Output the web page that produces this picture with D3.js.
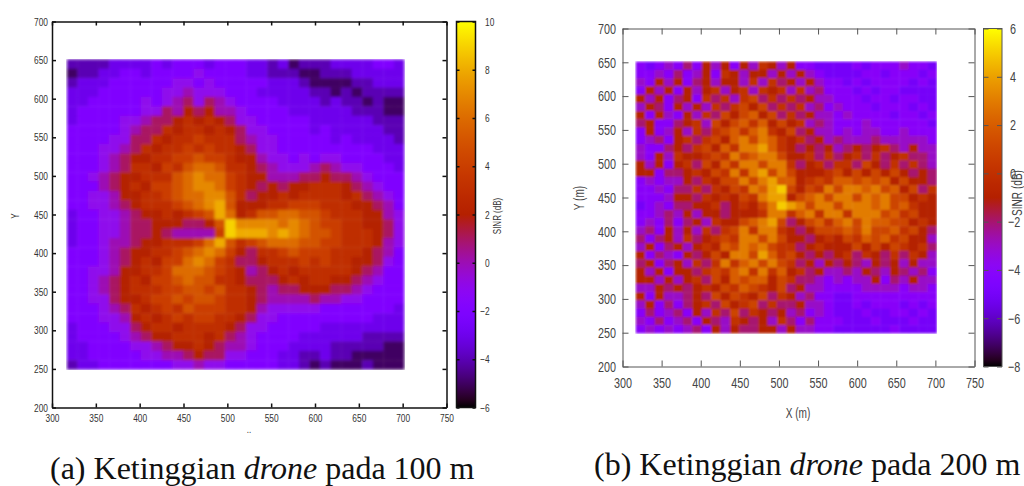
<!DOCTYPE html>
<html>
<head>
<meta charset="utf-8">
<script src="https://cdnjs.cloudflare.com/ajax/libs/d3/7.9.0/d3.min.js"></script>
<style>
  html, body { margin: 0; padding: 0; background: #fff; }
  svg { display: block; }
  .caption { font-family: "Liberation Serif", serif; fill: #111; }
</style>
</head>
<body>
<svg id="chart" width="1024" height="486"></svg>
<script>
// ticks
const xTicks = [300, 350, 400, 450, 500, 550, 600, 650, 700, 750];
const yTicks = [200, 250, 300, 350, 400, 450, 500, 550, 600, 650, 700];
const barTicksA = [-6, -4, -2, 0, 2, 4, 6, 8, 10];
const barTicksB = [-8, -6, -4, -2, 0, 2, 4, 6];

// SINR (dB), top row first on a 12 m grid
const sinrA = [
  [-4,-4,-4,-4,-3,-3,-3,-3,-2,-3,-2,-2,-2,-3,-2,-2,-2,-3,-3,-4,-3,-5,-4,-4,-4,-3,-3,-3,-3,-2,-2,-3],
  [-5,-4,-4,-3,-3,-2,-2,-3,-2,-2,-2,-2,-1,-2,-2,-2,-2,-3,-3,-4,-4,-4,-5,-5,-4,-4,-4,-3,-3,-3,-3,-3],
  [-4,-3,-3,-3,-2,-2,-2,-2,-2,-2,-1,-1,-2,-1,-2,-2,-2,-2,-2,-3,-3,-3,-4,-5,-5,-5,-5,-4,-4,-3,-3,-3],
  [-3,-3,-3,-2,-2,-2,-2,-2,-2,-1,-1,0,-1,-1,-1,-2,-2,-2,-3,-3,-3,-3,-3,-4,-4,-5,-4,-5,-4,-4,-4,-4],
  [-3,-3,-2,-2,-2,-2,-2,-1,-2,-1,0,1,-1,1,0,-1,-2,-2,-2,-2,-3,-3,-3,-3,-4,-3,-4,-4,-5,-4,-5,-5],
  [-3,-2,-2,-2,-2,-2,-2,-1,-1,1,0,2,1,2,0,0,-1,-2,-2,-2,-2,-3,-3,-3,-3,-3,-3,-4,-4,-4,-5,-5],
  [-3,-2,-2,-2,-2,-1,-1,0,1,1,2,3,2,3,2,1,-1,-1,-2,-2,-2,-2,-2,-3,-3,-3,-3,-3,-3,-4,-4,-4],
  [-2,-2,-2,-2,-2,-1,0,1,1,3,2,3,3,2,3,2,1,-1,-1,-2,-2,-2,-2,-3,-2,-3,-3,-3,-3,-3,-4,-4],
  [-2,-2,-2,-2,-1,-1,1,1,3,2,3,3,4,3,3,3,1,0,-1,-1,-2,-2,-2,-2,-2,-3,-2,-3,-3,-3,-3,-4],
  [-2,-2,-2,-1,-1,0,1,3,2,3,3,4,3,4,3,3,2,1,-1,-1,-2,-2,-2,-2,-2,-2,-2,-2,-2,-3,-3,-3],
  [-2,-2,-2,-1,0,1,2,2,3,3,4,4,5,4,4,3,2,2,0,-1,-1,-2,-1,-2,-1,-1,-2,-2,-2,-2,-3,-3],
  [-2,-2,-2,-1,0,1,3,3,2,4,3,5,6,6,5,3,3,2,1,0,-1,-1,-1,0,1,0,-1,-1,-2,-2,-2,-3],
  [-2,-2,-1,0,1,2,2,3,3,3,5,6,7,6,6,4,3,2,2,0,0,0,1,1,2,1,1,0,-1,-2,-2,-2],
  [-2,-2,-2,0,1,2,3,2,4,4,5,6,7,7,6,4,3,2,1,2,1,2,2,3,3,3,2,1,0,-1,-2,-2],
  [-2,-2,-1,-1,0,2,2,3,3,4,5,6,6,7,7,5,3,1,2,2,3,2,3,3,3,3,2,3,1,0,-1,-2],
  [-2,-2,-1,-1,0,1,2,3,3,3,4,5,6,7,8,5,2,2,2,3,3,4,4,4,3,3,3,2,2,1,0,-2],
  [-3,-2,-2,-1,-1,0,1,2,2,3,2,3,4,5,8,6,2,3,5,5,6,6,5,5,4,3,3,3,2,2,0,-1],
  [-3,-2,-2,-1,-1,0,1,1,2,2,2,1,1,2,5,9,7,7,7,7,6,7,6,5,4,4,3,3,2,2,1,-1],
  [-3,-2,-2,-1,-1,0,1,1,2,1,0,0,0,0,4,9,8,8,8,7,8,7,6,5,5,4,3,3,3,2,1,-1],
  [-3,-2,-2,-1,0,0,1,2,2,3,3,3,4,6,8,5,3,4,5,6,6,6,5,5,4,4,3,3,3,2,0,-1],
  [-2,-2,-2,-1,0,1,2,2,3,3,4,5,6,7,6,4,2,1,3,3,4,5,4,4,4,3,3,3,2,1,0,-2],
  [-2,-2,-2,-1,0,1,2,3,2,4,4,6,7,6,4,3,1,1,2,3,3,3,4,3,4,3,3,2,2,1,-1,-2],
  [-2,-2,-1,-1,0,2,2,3,3,4,6,6,6,5,4,3,2,0,1,2,3,2,3,3,3,3,3,2,1,0,-2,-2],
  [-2,-2,-1,0,1,2,3,2,4,4,5,6,5,5,3,3,2,1,1,1,2,3,2,3,3,2,2,1,0,-1,-2,-2],
  [-2,-2,-1,0,1,2,3,3,3,4,4,5,5,4,5,3,3,2,1,0,1,1,2,2,2,1,1,0,-1,-2,-2,-2],
  [-2,-2,-1,-1,1,2,2,3,4,4,5,4,5,5,4,3,3,2,1,0,0,0,0,1,0,0,-1,-1,-2,-2,-2,-2],
  [-2,-2,-2,-1,0,1,3,2,3,4,3,5,4,4,4,3,3,2,0,-1,-1,-1,-1,-1,-2,-2,-2,-2,-2,-2,-2,-3],
  [-2,-2,-2,-1,-1,0,2,3,2,3,4,3,4,4,3,3,2,1,-1,-1,-2,-2,-2,-2,-2,-2,-2,-2,-2,-3,-3,-3],
  [-3,-2,-2,-2,-1,-1,1,2,3,3,2,3,3,3,3,2,1,-1,-1,-2,-2,-2,-2,-2,-3,-3,-3,-3,-3,-3,-3,-3],
  [-3,-2,-2,-2,-2,-1,0,1,2,2,3,3,3,2,3,1,0,-1,-2,-2,-2,-2,-3,-3,-3,-3,-3,-3,-4,-4,-4,-4],
  [-3,-3,-2,-2,-2,-2,-1,-1,0,1,2,2,3,2,1,0,0,-1,-2,-2,-2,-3,-3,-3,-3,-4,-4,-4,-4,-4,-5,-5],
  [-3,-3,-2,-2,-2,-2,-2,-1,-1,0,0,1,2,1,1,-1,-1,-2,-2,-2,-3,-3,-4,-4,-3,-4,-4,-5,-5,-5,-5,-5],
  [-4,-3,-3,-2,-2,-2,-2,-2,-2,-2,-1,-1,0,-1,-1,-2,-2,-2,-2,-2,-3,-3,-4,-5,-4,-5,-5,-5,-4,-5,-5,-5]
];

const sinrB = [
  [-4,-5,-4,-3,-4,-2,-4,-1,-3,-1,-4,-1,-3,0,-1,-3,-1,-4,-4,-5,-5,-5,-5,-4,-5,-4,-4,-4,-3,-4,-4,-5],
  [-4,-4,-3,-4,-2,-4,-3,-1,-4,0,-1,-3,-1,-1,-3,-1,-3,-1,-3,-4,-5,-5,-5,-5,-4,-4,-5,-4,-4,-4,-5,-4],
  [-3,-4,-1,-3,-1,-4,-2,-1,-3,-1,-1,-3,0,-3,0,-2,-1,-3,-1,-3,-4,-4,-5,-4,-5,-4,-4,-4,-4,-5,-4,-5],
  [-4,-1,-3,-1,-4,-1,-3,-1,0,-3,-1,0,-3,0,-1,0,-3,0,-3,-2,-4,-4,-4,-5,-4,-5,-4,-4,-5,-5,-5,-5],
  [-1,-3,-1,-4,-2,-1,-4,0,-2,0,-3,0,1,-2,0,-2,0,-2,-1,-3,-3,-4,-4,-4,-5,-4,-4,-5,-4,-4,-5,-5],
  [-3,-1,-2,-4,-1,-3,-1,-3,0,-2,0,1,-1,1,-2,0,-2,0,-3,-2,-4,-3,-4,-4,-4,-5,-4,-4,-4,-5,-4,-5],
  [-1,-4,-1,-3,-4,-1,-3,0,-2,1,-1,1,2,-1,1,-2,0,-2,-1,-3,-3,-4,-3,-4,-4,-4,-4,-5,-4,-4,-5,-4],
  [-2,-1,-4,-4,-2,-1,0,-3,1,-1,1,2,0,2,-1,1,-1,0,-3,-2,-3,-4,-4,-4,-3,-4,-4,-4,-4,-4,-4,-5],
  [-4,-1,-4,-3,-1,-3,0,-2,0,1,2,0,2,3,0,-1,1,-2,-1,-3,-3,-4,-3,-4,-3,-3,-4,-4,-3,-4,-4,-4],
  [-4,-3,-2,-4,-1,0,-2,0,1,-1,2,3,1,3,2,0,-1,0,-2,-1,-3,-2,-3,-3,-3,-2,-3,-3,-3,-3,-3,-4],
  [-3,-4,-4,-2,-1,-2,0,1,-1,2,0,3,3,4,2,0,-1,-2,-1,-2,-1,-3,-2,-1,-2,-1,0,-2,-3,-1,-3,-3],
  [-3,-4,-1,-3,0,-1,-1,0,1,0,3,1,2,3,3,1,-1,-1,0,-2,0,-2,-1,0,-2,0,-2,-1,0,-2,-2,-3],
  [-1,-3,-1,-4,-1,0,-2,1,-1,2,0,3,3,1,3,3,0,-2,-1,0,-2,0,0,-2,1,-1,-2,0,-2,0,-2,-3],
  [-1,-1,-4,-2,-2,-1,0,-1,1,0,3,0,3,4,1,3,1,-1,-1,-1,0,1,-1,1,-1,1,-1,1,-1,-2,-1,-2],
  [-4,-3,-4,-3,-3,-1,-2,0,-1,1,1,3,1,3,4,2,2,-1,0,1,0,2,2,1,2,1,2,-1,1,-1,-1,-2],
  [-4,-4,-3,-4,-2,-2,0,-2,0,-1,1,0,3,2,4,5,1,-1,1,0,3,1,3,3,2,3,1,2,-1,1,-2,0],
  [-4,-4,-4,-3,-1,-1,-2,0,-1,0,-1,1,0,3,4,4,-1,1,2,3,1,3,3,1,3,2,3,1,1,-1,0,-1],
  [-5,-4,-3,-4,-2,-2,-1,-1,0,-2,-1,0,-1,1,3,5,4,3,1,3,3,1,3,3,3,2,3,1,2,0,-1,-1],
  [-4,-4,-3,-2,-3,-1,-3,-1,-1,-2,-1,-1,-1,0,3,3,0,2,3,0,3,3,0,3,3,3,1,2,0,1,-1,-1],
  [-4,-3,-4,-2,-4,-2,-1,-3,0,-1,-1,1,2,3,4,1,-2,-1,1,2,0,2,3,1,3,2,2,1,1,-1,0,-1],
  [-3,-2,-4,-1,-3,-1,-3,0,-2,0,1,3,0,3,3,0,-1,-2,-1,1,1,1,2,1,3,1,1,2,0,1,-1,-2],
  [-2,-4,-2,-1,-3,0,-2,-1,0,1,0,3,3,1,3,1,-1,-1,-2,-1,0,-1,1,0,2,1,2,0,1,-1,-1,-3],
  [-3,-1,-4,-2,-1,-3,-1,0,-1,2,1,3,2,3,1,0,0,-2,-1,0,-1,-1,-1,1,-1,1,-1,1,0,-1,0,-2],
  [-1,-4,-2,-3,-4,-1,-2,-1,1,-1,3,3,1,4,2,0,1,-1,-2,-1,-2,-1,0,-2,0,-1,-2,0,-2,0,-1,-3],
  [-2,-1,-4,-2,-1,-3,0,-2,0,3,0,2,3,1,3,1,0,-2,-1,-3,-1,-2,-1,-2,-3,-1,-2,-1,-3,-1,-3,-3],
  [-1,-3,-1,-4,-1,-1,-2,0,1,0,2,3,0,3,0,2,-1,0,-2,-1,-3,-3,-2,-3,-1,-2,-3,-1,-2,-3,-2,-4],
  [-1,-1,-3,-1,-3,-1,0,-2,1,-1,2,1,2,2,-1,1,0,-2,-2,-3,-4,-3,-4,-3,-3,-1,-4,-2,-3,-1,-3,-3],
  [-3,-3,-1,-2,-1,-2,-1,0,-1,1,0,2,1,0,-1,1,-2,-1,-3,-3,-4,-4,-4,-4,-3,-3,-3,-3,-4,-3,-3,-4],
  [-1,-4,-1,-3,-3,-2,-1,-2,1,-1,1,0,-1,1,-2,0,-1,-3,-2,-4,-4,-5,-5,-4,-4,-4,-4,-4,-4,-4,-4,-4],
  [-3,-1,-4,-2,-4,-2,-1,0,-2,1,-1,0,1,-2,0,-2,-2,-1,-3,-3,-4,-5,-5,-4,-5,-4,-4,-4,-5,-4,-5,-4],
  [-4,-2,-4,-3,-2,-4,-1,-3,0,-2,1,-2,0,-1,-2,-1,-3,-2,-4,-3,-4,-5,-5,-5,-4,-5,-5,-4,-4,-5,-4,-5],
  [-3,-4,-2,-4,-3,-2,-4,-1,-2,-3,0,-1,-2,-1,-3,0,-2,-4,-2,-4,-4,-4,-5,-5,-5,-4,-5,-5,-5,-4,-5,-5],
  [-4,-3,-4,-3,-4,-3,-2,-4,-1,-3,-1,-2,-2,-1,-1,-3,-1,-3,-3,-4,-4,-5,-5,-5,-5,-5,-5,-4,-5,-5,-5,-5]
];

// gnuplot's default pm3d palette (rgbformulae 7,5,15)
const palette = t => d3.rgb(
  255 * Math.sqrt(t),
  255 * t * t * t,
  255 * Math.max(0, Math.sin(2 * Math.PI * t))
).formatHex();

const svg = d3.select('#chart');

function drawPanel(p) {
  const x = d3.scaleLinear().domain([300, 750]).range([p.left, p.right]);
  const y = d3.scaleLinear().domain([200, 700]).range([p.bottom, p.top]);
  const color = d3.scaleSequential(palette).domain([p.barTicks[0], p.barTicks[p.barTicks.length - 1]]);
  const g = svg.append('g').attr('id', p.id);
  const defs = svg.append('defs');

  // the source image is a blurry scan, soften the cells the same way
  defs.append('filter')
    .attr('id', p.id + '-soft')
    .attr('x', 0).attr('y', 0).attr('width', 1).attr('height', 1)
    .append('feGaussianBlur')
    .attr('stdDeviation', p.blur)
    .attr('edgeMode', 'duplicate');

  // heat map cells
  const col = d3.scaleBand().domain(d3.range(p.values[0].length)).range([x(317), x(702)]);
  const row = d3.scaleBand().domain(d3.range(p.values.length)).range([y(651), y(249)]);
  const cells = p.values.flatMap((r, j) => r.map((v, i) => ({ i, j, v })));
  g.append('g')
    .attr('filter', `url(#${p.id}-soft)`)
    .selectAll('rect')
    .data(cells)
    .join('rect')
    .attr('x', d => col(d.i))
    .attr('y', d => row(d.j))
    .attr('width', d => col.bandwidth() + (d.i < p.values[0].length - 1 ? 0.4 : 0))
    .attr('height', d => row.bandwidth() + (d.j < p.values.length - 1 ? 0.4 : 0))
    .attr('fill', d => color(d.v));

  // gnuplot labels are narrower than anything installed, squeeze them
  const squeeze = sel => sel.each(function () {
    if (!this.textContent) return;
    d3.select(this)
      .attr('textLength', this.getComputedTextLength() * p.squeeze)
      .attr('lengthAdjust', 'spacingAndGlyphs');
  });

  // axes, ticks point inward on all four sides
  const styleAxis = a => {
    a.select('.domain').attr('stroke', p.frameColor).attr('stroke-width', p.frameWidth);
    a.selectAll('.tick line').attr('stroke', p.frameColor).attr('stroke-width', p.tickWidth);
    a.selectAll('text')
      .attr('font-family', p.font)
      .attr('font-size', p.fontSize)
      .attr('fill', p.textColor)
      .call(squeeze);
  };
  g.append('g').attr('transform', `translate(0,${p.bottom})`)
    .call(d3.axisBottom(x).tickValues(xTicks).tickSize(-p.tick).tickSizeOuter(0).tickPadding(p.xPad))
    .call(styleAxis);
  g.append('g').attr('transform', `translate(0,${p.top})`)
    .call(d3.axisTop(x).tickValues(xTicks).tickSize(-p.tick).tickSizeOuter(0).tickFormat(''))
    .call(styleAxis);
  g.append('g').attr('transform', `translate(${p.left},0)`)
    .call(d3.axisLeft(y).tickValues(yTicks).tickSize(-p.tick).tickSizeOuter(0).tickPadding(p.yPad))
    .call(styleAxis);
  g.append('g').attr('transform', `translate(${p.right},0)`)
    .call(d3.axisRight(y).tickValues(yTicks).tickSize(-p.tick).tickSizeOuter(0).tickFormat(''))
    .call(styleAxis);

  // colour bar
  const barY = d3.scaleLinear().domain(color.domain()).range([p.bottom, p.top]);
  const grad = defs.append('linearGradient')
    .attr('id', p.id + '-grad')
    .attr('x1', 0).attr('x2', 0).attr('y1', 1).attr('y2', 0);
  grad.selectAll('stop')
    .data(d3.range(0, 1.001, 0.02))
    .join('stop')
    .attr('offset', d => d)
    .attr('stop-color', d => palette(d));
  g.append('rect')
    .attr('x', p.barLeft)
    .attr('y', p.top)
    .attr('width', p.barRight - p.barLeft)
    .attr('height', p.bottom - p.top)
    .attr('fill', `url(#${p.id}-grad)`)
    .attr('stroke', p.frameColor)
    .attr('stroke-width', p.frameWidth);
  g.append('g').attr('transform', `translate(${p.barLeft},0)`)
    .call(d3.axisLeft(barY).tickValues(p.barTicks).tickSize(-p.barTick).tickSizeOuter(0).tickFormat(''))
    .call(styleAxis)
    .select('.domain').remove();
  g.append('g').attr('transform', `translate(${p.barRight},0)`)
    .call(d3.axisRight(barY).tickValues(p.barTicks).tickSize(-p.barTick).tickSizeOuter(0).tickPadding(p.barPad))
    .call(styleAxis)
    .call(a => a.selectAll('text').attr('dx', d => d < 0 ? p.negDx : 0))
    .select('.domain').remove();

  // axis titles
  const label = (txt, pos, rotate) => g.append('text')
    .attr('transform', `translate(${pos[0]},${pos[1]})${rotate ? ' rotate(-90)' : ''}`)
    .attr('text-anchor', 'middle')
    .attr('font-family', p.font)
    .attr('font-size', p.labelSize)
    .attr('fill', p.textColor)
    .text(txt)
    .call(squeeze);
  label(p.xLabel, p.xLabelPos, false);
  label(p.yLabel, p.yLabelPos, true);
  label('SINR (dB)', p.barLabelPos, true);

  // sub-caption
  const cap = svg.append('text')
    .attr('class', 'caption')
    .attr('x', p.captionPos[0])
    .attr('y', p.captionPos[1])
    .attr('font-size', 32);
  cap.append('tspan').text(p.captionStart);
  cap.append('tspan').attr('font-style', 'italic').text('drone');
  cap.append('tspan').text(p.captionEnd);
}

drawPanel({
  id: 'panel-a', values: sinrA, barTicks: barTicksA, blur: 1.6,
  left: 52, right: 446.5, top: 21.5, bottom: 407.5,
  barLeft: 456.5, barRight: 475.5,
  frameColor: '#111', frameWidth: 1.5, tickWidth: 1.5, tick: 4, barTick: 3,
  font: '"Liberation Sans", sans-serif', fontSize: 11, labelSize: 10.5, textColor: '#333', squeeze: 0.76,
  xPad: 7, yPad: 4, barPad: 9.5, negDx: -5,
  xLabel: '..', xLabelPos: [249, 433], yLabel: 'Y', yLabelPos: [19, 216], barLabelPos: [501, 216],
  captionPos: [50, 478.5], captionStart: '(a) Ketinggian ', captionEnd: ' pada 100 m'
});

drawPanel({
  id: 'panel-b', values: sinrB, barTicks: barTicksB, blur: 0.9,
  left: 622.5, right: 974.5, top: 28.5, bottom: 366.5,
  barLeft: 983.5, barRight: 1002,
  frameColor: '#555', frameWidth: 1, tickWidth: 1, tick: 6, barTick: 5,
  font: '"Liberation Sans", sans-serif', fontSize: 15, labelSize: 14, textColor: '#444', squeeze: 0.72,
  xPad: 11, yPad: 6.5, barPad: 8, negDx: -2,
  xLabel: 'X (m)', xLabelPos: [798, 418], yLabel: 'Y (m)', yLabelPos: [584, 198], barLabelPos: [1022, 193],
  captionPos: [594, 475], captionStart: '(b) Ketinggian ', captionEnd: ' pada 200 m'
});
</script>
</body>
</html>
